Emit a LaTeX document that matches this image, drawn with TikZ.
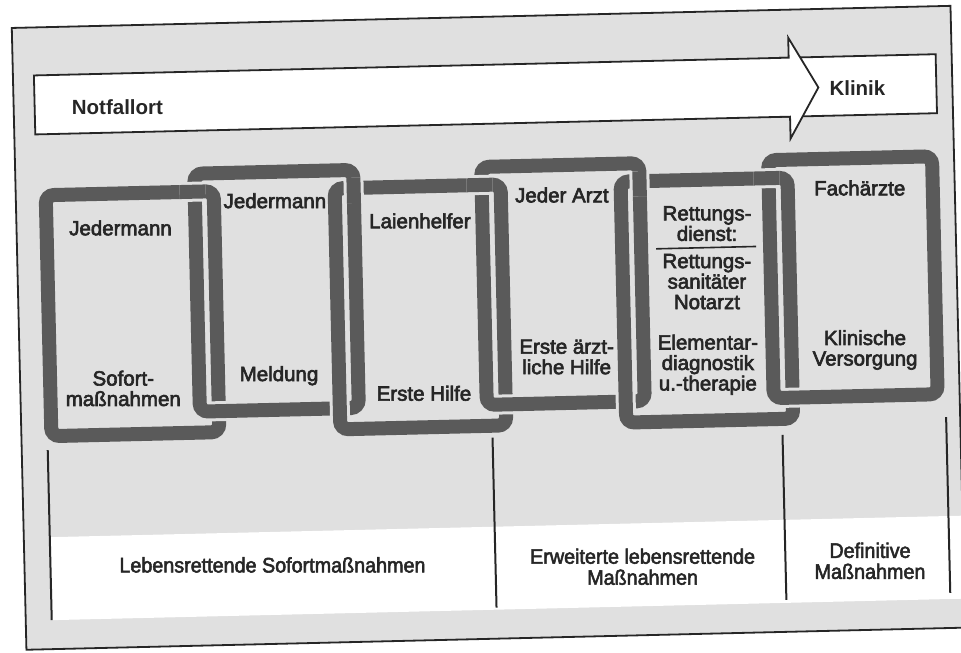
\documentclass[tikz,border=0pt]{standalone}
\usepackage{fontspec}
\setmainfont{Liberation Sans}
\newfontfamily\boxfont[FakeBold=3]{Liberation Sans}
\newfontfamily\labfont[FakeBold=2.5,FakeStretch=0.94]{Liberation Sans}
\begin{document}
\begin{tikzpicture}[x=1pt,y=-1pt]
\definecolor{bg}{RGB}{224,224,224}
\definecolor{linkgray}{RGB}{90,90,90}
\definecolor{ink}{RGB}{38,38,38}
\tikzset{
  link/.style={draw=linkgray, line width=14pt, rounded corners=8pt},
  halo/.style={draw=bg, line width=20pt, rounded corners=8pt},
  boxtext/.style={font=\boxfont\fontsize{20.5}{20.5}\selectfont, text=ink, align=center, inner sep=0pt},
  bantext/.style={font=\fontsize{20.5}{22}\selectfont\bfseries, text=ink, inner sep=0pt},
  labtext/.style={font=\labfont\fontsize{21}{21}\selectfont, text=ink, align=center, inner sep=0pt},
  divider/.style={draw=ink, line width=2pt},
  outline/.style={draw=ink, line width=1.8pt, line join=miter},
}
\useasboundingbox (0,0) rectangle (961,653);
\fill[white] (0,0) rectangle (961,653);
\begin{scope}[rotate around={1.35:(480,330)}]
  % frame
  \draw[outline, fill=bg] (19,17) rectangle (958,639);
  % white label band
  \fill[white] (45,527) rectangle (957,610);
  % banner: Klinik part behind, Notfallort arrow in front
  \draw[outline, fill=white] (780,65) rectangle (942,124);
  \draw[outline, fill=white] (40,65) -- (795,65) -- (795,45) -- (824,95.5) -- (795,146) -- (795,124) -- (40,124) -- cycle;
  \node[bantext, anchor=west] (notfall) at (77,98) {Notfallort};
  \node[bantext] (klinik) at (863,97.5) {Klinik};
  % chain of boxes
  \draw[halo] (49,185) rectangle (217,426);   \draw[link] (49,185) rectangle (217,426);
  \draw[halo] (198,167) rectangle (357,405);  \draw[link] (198,167) rectangle (357,405);
  \draw[halo] (338,185) rectangle (504,426);  \draw[link] (338,185) rectangle (504,426);
  \draw[halo] (485,167) rectangle (643,405);  \draw[link] (485,167) rectangle (643,405);
  \draw[halo] (624,185) rectangle (791,426);  \draw[link] (624,185) rectangle (791,426);
  \draw[halo] (772,167) rectangle (936,405);  \draw[link] (772,167) rectangle (936,405);
  % over-crossings at the top (left link passes over)
  \draw[halo, rounded corners=0pt] (183,185) -- (209,185); \draw[link, rounded corners=0pt] (183,185) -- (209,185);
  \draw[halo, rounded corners=0pt] (357,175) -- (357,200); \draw[link, rounded corners=0pt] (357,175) -- (357,200);
  \draw[halo, rounded corners=0pt] (470,185) -- (496,185); \draw[link, rounded corners=0pt] (470,185) -- (496,185);
  \draw[halo, rounded corners=0pt] (643,175) -- (643,200); \draw[link, rounded corners=0pt] (643,175) -- (643,200);
  \draw[halo, rounded corners=0pt] (757,185) -- (783,185); \draw[link, rounded corners=0pt] (757,185) -- (783,185);
  % texts in the links
  \node[boxtext] (b1a) at (123,219.5) {Jedermann};
  \node[boxtext] (b1b) at (122,380) {Sofort-\\maßnahmen};
  \node[boxtext] (b2a) at (278,196) {Jedermann};
  \node[boxtext] (b2b) at (278,371) {Meldung};
  \node[boxtext] (b3a) at (422.5,219.5) {Laienhelfer};
  \node[boxtext] (b3b) at (422.5,392) {Erste Hilfe};
  \node[boxtext] (b4a) at (565,197) {Jeder Arzt};
  \node[boxtext] (b4b) at (566,359) {Erste ärzt-\\liche Hilfe};
  \node[boxtext] (b5a) at (709.5,229) {Rettungs-\\dienst:};
  \coordinate (r1) at (658,253);
  \coordinate (r2) at (758,253);
  \draw[draw=ink, line width=1.6pt] (r1) -- (r2);
  \node[boxtext] (b5b) at (708,287) {Rettungs-\\sanitäter\\Notarzt};
  \node[boxtext] (b5c) at (707,370) {Elementar-\\diagnostik\\u.-therapie};
  \node[boxtext] (b6a) at (863,197) {Fachärzte};
  \node[boxtext] (b6b) at (864.5,359) {Klinische\\Versorgung};
  % dividers
  \coordinate (d1t) at (45,440);  \coordinate (d1b) at (45,610);
  \coordinate (d2t) at (490,438); \coordinate (d2b) at (490,608);
  \coordinate (d3t) at (780,442); \coordinate (d3b) at (780,607);
  \coordinate (d4t) at (944,428); \coordinate (d4b) at (944,604);
  \draw[divider] (d1t) -- (d1b);
  \draw[divider] (d2t) -- (d2b);
  \draw[divider] (d3t) -- (d3b);
  \draw[divider] (d4t) -- (d4b);
  % bottom labels
  \node[labtext] (l1) at (267,560) {Lebensrettende Sofortmaßnahmen};
  \node[labtext] (l2) at (637,570.5) {Erweiterte lebensrettende\\Maßnahmen};
  \node[labtext] (l3) at (864.5,570) {Definitive\\Maßnahmen};
\end{scope}
\end{tikzpicture}
\end{document}
